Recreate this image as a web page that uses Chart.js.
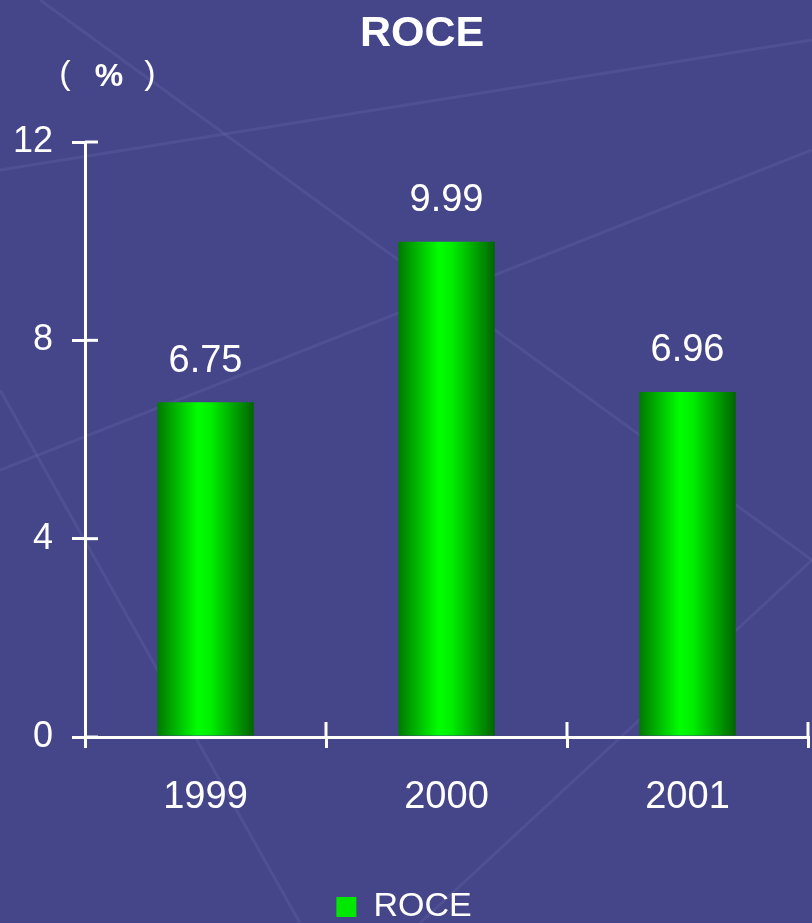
<!DOCTYPE html>
<html>
<head>
<meta charset="utf-8">
<script src="https://cdn.jsdelivr.net/npm/chart.js@4.4.0/dist/chart.umd.min.js"></script>
<style>
  html, body { margin: 0; padding: 0; background: #45458a; }
  #wrap { width: 812px; height: 923px; position: relative; }
</style>
</head>
<body>
<div id="wrap"><canvas id="roceChart"></canvas></div>
<script>
const years = ['1999', '2000', '2001'];
const roceValues = [6.75, 9.99, 6.96];
const yTicks = [0, 4, 8, 12];

const FONT = "'Liberation Sans', Arial, sans-serif";
const BAR_FRACTION = 0.4;

// background with faint diagonal streaks
const backdrop = {
    id: 'backdrop',
    beforeDraw: function (chart) {
        const c = chart.ctx;
        c.save();
        c.fillStyle = '#45458a';
        c.fillRect(0, 0, chart.width, chart.height);
        c.strokeStyle = 'rgba(120,120,180,0.22)';
        c.lineWidth = 3;
        const lines = [[40, 0, 812, 560], [0, 170, 812, 40], [0, 470, 812, 150], [0, 390, 300, 923], [420, 923, 812, 560]];
        lines.forEach(function (l) {
            c.beginPath();
            c.moveTo(l[0], l[1]);
            c.lineTo(l[2], l[3]);
            c.stroke();
        });
        c.restore();
    }
};

// shaded cylinder-like fill, one gradient per bar
function barGradient(context) {
    const chart = context.chart;
    const xs = chart.scales.x;
    if (!xs || context.dataIndex === undefined) return '#00e000';
    const w = xs.width / years.length * BAR_FRACTION;
    const x0 = xs.getPixelForValue(context.dataIndex) - w / 2;
    const g = chart.ctx.createLinearGradient(x0, 0, x0 + w, 0);
    g.addColorStop(0, '#007800');
    g.addColorStop(0.42, '#00ff00');
    g.addColorStop(0.55, '#00f000');
    g.addColorStop(1, '#006400');
    return g;
}

// value labels, crossing tick marks, title and unit text
const extras = {
    id: 'extras',
    afterDraw: function (chart) {
        const c = chart.ctx;
        const xs = chart.scales.x;
        const ys = chart.scales.y;
        c.save();
        c.fillStyle = '#ffffff';
        c.textAlign = 'center';
        c.textBaseline = 'middle';

        c.font = '38px ' + FONT;
        chart.getDatasetMeta(0).data.forEach(function (bar, i) {
            c.fillText(roceValues[i].toFixed(2), bar.x, bar.y - 41);
        });

        c.strokeStyle = '#ffffff';
        c.lineWidth = 3;
        yTicks.forEach(function (v) {
            const y = ys.getPixelForValue(v);
            c.beginPath();
            c.moveTo(ys.right, y);
            c.lineTo(ys.right + 13, y);
            c.stroke();
        });
        for (let i = 1; i <= years.length; i++) {
            const x = xs.getPixelForValue(i - 0.5);
            c.beginPath();
            c.moveTo(x, xs.top);
            c.lineTo(x, xs.top - 15);
            c.stroke();
        }

        c.font = 'bold 43px ' + FONT;
        c.fillText('ROCE', 422, 34);

        c.font = '34px ' + FONT;
        c.fillText('(', 65, 75);
        c.fillText(')', 150, 75);
        c.font = 'bold 32px ' + FONT;
        c.fillText('%', 109, 77);
        c.restore();
    }
};

const ctxRoce = document.getElementById('roceChart').getContext('2d');
new Chart(ctxRoce, {
    type: 'bar',
    data: {
        labels: years,
        datasets: [{
            label: 'ROCE',
            data: roceValues,
            backgroundColor: barGradient,
            borderWidth: 0,
            categoryPercentage: 1,
            barPercentage: BAR_FRACTION
        }]
    },
    options: {
        responsive: true,
        maintainAspectRatio: false,
        animation: false,
        layout: { padding: { top: 142, right: 4, left: 0, bottom: -11 } },
        plugins: {
            title: { display: false },
            tooltip: { enabled: false },
            legend: {
                position: 'bottom',
                labels: {
                    color: '#ffffff',
                    font: { size: 34, family: FONT },
                    boxWidth: 20,
                    boxHeight: 20,
                    padding: 2,
                    generateLabels: function () {
                        return [{ text: 'ROCE', fillStyle: '#00e800', strokeStyle: '#00e800', lineWidth: 0, fontColor: '#ffffff' }];
                    }
                }
            }
        },
        scales: {
            x: {
                offset: true,
                grid: { offset: true, drawOnChartArea: false, color: '#ffffff', lineWidth: 3, tickLength: 11 },
                border: { color: '#ffffff', width: 3 },
                ticks: { color: '#ffffff', font: { size: 38, family: FONT }, padding: 27 },
                afterFit: function (scale) { scale.height = 151; }
            },
            y: {
                min: 0,
                max: 12,
                afterBuildTicks: function (scale) {
                    scale.ticks = yTicks.map(function (v) { return { value: v }; });
                },
                grid: { drawOnChartArea: false, color: '#ffffff', lineWidth: 3, tickLength: 13 },
                border: { color: '#ffffff', width: 3 },
                ticks: { color: '#ffffff', font: { size: 36, family: FONT }, padding: 19 },
                afterFit: function (scale) { scale.width = 85; }
            }
        }
    },
    plugins: [backdrop, extras]
});
</script>
</body>
</html>
